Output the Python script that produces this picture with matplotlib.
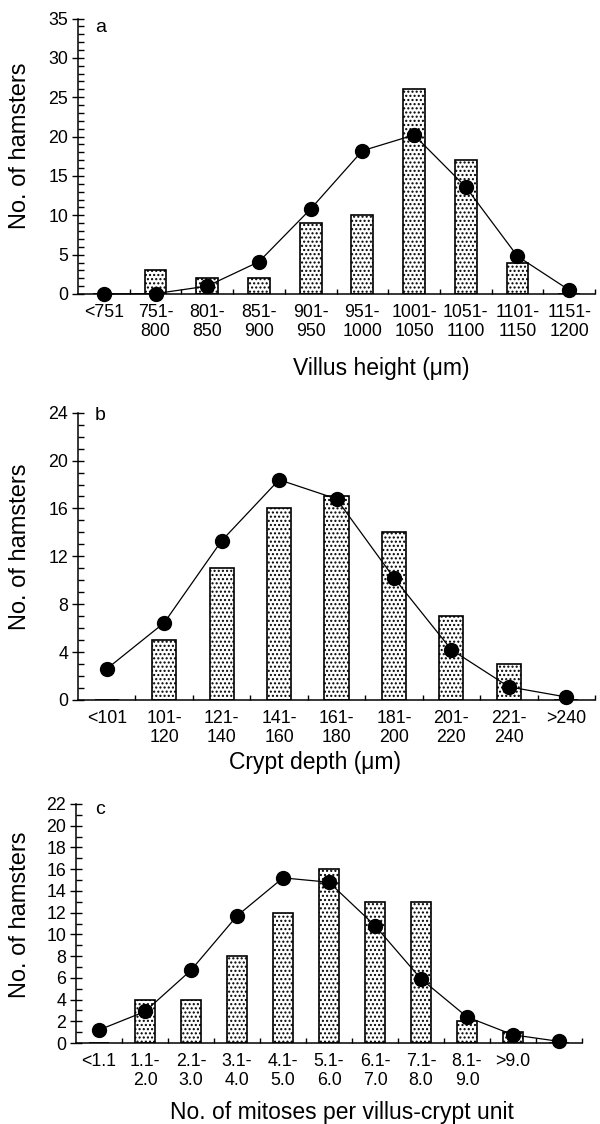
import matplotlib
matplotlib.use('Agg')
import matplotlib.pyplot as plt
from matplotlib.ticker import MultipleLocator, FixedLocator

plt.rcParams['font.family'] = ['Liberation Sans', 'DejaVu Sans']
plt.rcParams['hatch.linewidth'] = 1.0

# panel a - villus height
a_labels = ['<751', '751-\n800', '801-\n850', '851-\n900', '901-\n950', '951-\n1000',
            '1001-\n1050', '1051-\n1100', '1101-\n1150', '1151-\n1200']
a_counts = [0, 3, 2, 2, 9, 10, 26, 17, 4, 0]
a_curve = [0, 0.05, 1.0, 4.1, 10.8, 18.2, 20.2, 13.6, 4.8, 0.5]

# panel b - crypt depth
b_labels = ['<101', '101-\n120', '121-\n140', '141-\n160', '161-\n180', '181-\n200',
            '201-\n220', '221-\n240', '>240']
b_counts = [0, 5, 11, 16, 17, 14, 7, 3, 0]
b_curve = [2.6, 6.45, 13.3, 18.4, 16.8, 10.2, 4.2, 1.1, 0.25]

# panel c - mitoses
c_labels = ['<1.1', '1.1-\n2.0', '2.1-\n3.0', '3.1-\n4.0', '4.1-\n5.0', '5.1-\n6.0',
            '6.1-\n7.0', '7.1-\n8.0', '8.1-\n9.0', '>9.0', '']
c_counts = [0, 4, 4, 8, 12, 16, 13, 13, 2, 1, 0]
c_curve = [1.2, 2.9, 6.7, 11.7, 15.2, 14.8, 10.8, 5.9, 2.4, 0.75, 0.15]

W, H = 600, 1124
fig = plt.figure(figsize=(W / 100, H / 100), dpi=100)


def box(left, top, right, bottom):
    return [left / W, 1 - bottom / H, (right - left) / W, (bottom - top) / H]


def panel(rect, labels, counts, curve, ymax, major, letter, letter_xy, xlabel, xlabel_xy, ylabel_y):
    ax = fig.add_axes(rect)
    x = list(range(len(labels)))
    ax.bar(x, counts, width=0.42, color='white', edgecolor='black', linewidth=1.2,
           hatch='....', zorder=2)
    ax.plot(x, curve, color='black', lw=0.9, marker='o', markersize=10,
            markerfacecolor='black', zorder=3, clip_on=False)
    ax.set_xlim(-0.5, len(labels) - 0.5)
    ax.set_ylim(0, ymax)
    ax.spines['top'].set_visible(False)
    ax.spines['right'].set_visible(False)
    ax.spines['left'].set_linewidth(1.1)
    ax.spines['bottom'].set_linewidth(1.1)
    ax.set_xticks(x)
    ax.set_xticklabels(labels, fontsize=12.8)
    ax.xaxis.set_minor_locator(FixedLocator([i + 0.5 for i in x]))
    ax.tick_params(axis='x', which='major', length=0, pad=7)
    ax.tick_params(axis='x', which='minor', direction='in', length=3.6, width=1.0)
    ax.yaxis.set_major_locator(MultipleLocator(major))
    ax.yaxis.set_minor_locator(MultipleLocator(1))
    ax.tick_params(axis='y', which='major', direction='inout', length=8, width=1.0,
                   labelsize=12.8, pad=3)
    ax.tick_params(axis='y', which='minor', direction='in', length=4.5, width=1.0)
    fig.text(letter_xy[0] / W, 1 - letter_xy[1] / H, letter, fontsize=14,
             ha='left', va='center')
    fig.text(xlabel_xy[0] / W, 1 - xlabel_xy[1] / H, xlabel, fontsize=16.5,
             ha='center', va='center')
    fig.text(20 / W, 1 - ylabel_y / H, 'No. of hamsters', fontsize=17,
             rotation=90, ha='center', va='center')
    return ax


panel(box(78, 18.5, 595, 294), a_labels, a_counts, a_curve, 35, 5,
      'a', (95, 28), 'Villus height (\u03bcm)', (381, 368), 146)
panel(box(78, 412.7, 595, 700), b_labels, b_counts, b_curve, 24, 4,
      'b', (95, 415), 'Crypt depth (\u03bcm)', (315, 763), 547)
panel(box(76, 804, 582, 1043), c_labels, c_counts, c_curve, 22, 2,
      'c', (95, 810), 'No. of mitoses per villus-crypt unit', (342, 1113), 915)

plt.savefig('out.png', dpi=100)
plt.close()
